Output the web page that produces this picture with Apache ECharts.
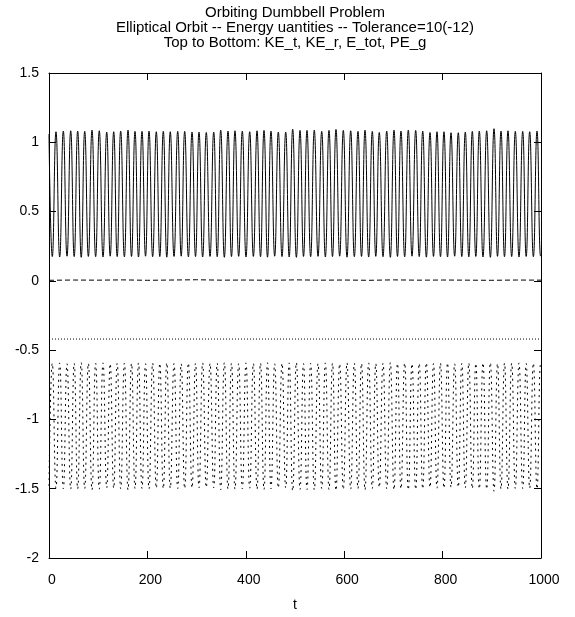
<!DOCTYPE html>
<html>
<head>
<meta charset="utf-8">
<script src="https://cdn.jsdelivr.net/npm/echarts@6/dist/echarts.min.js"></script>
<style>html,body{margin:0;padding:0;background:#fff;}#c{width:575px;height:617px;}</style>
</head>
<body>
<div id="c"></div>
<script>
// Title lines
var titleLines = [
  "Orbiting Dumbbell Problem",
  "Elliptical Orbit -- Energy uantities -- Tolerance=10(-12)",
  "Top to Bottom: KE_t, KE_r, E_tot, PE_g"
];
var xLabel = "t";
var xTicks = [0, 200, 400, 600, 800, 1000];
var yTicks = [-2, -1.5, -1, -0.5, 0, 0.5, 1, 1.5];

// KE_t local maxima (times) and values
var tPeaks = [0, 14.2, 29.1, 44.1, 58.3, 72.6, 87.4, 102.2, 117.3, 131.5, 145.7, 160.6, 174.8, 189.0, 203.3, 218.1, 232.3, 246.5, 261.6, 275.8, 290.7, 304.9, 319.7,
  334.8, 349.0, 363.8, 378.0, 392.9, 407.9, 422.8, 437.0, 451.2, 466.1, 481.1, 495.3, 510.2, 524.4, 539.2, 554.3, 569.1, 583.3, 598.2, 613.2, 628.0, 642.3,
  657.1, 671.3, 686.4, 701.2, 715.4, 730.3, 745.3, 759.6, 774.4, 788.6, 802.8, 817.1, 831.9, 846.1, 860.4, 874.6, 889.6, 904.5, 918.7, 932.9, 947.8, 962.8, 977.0, 991.9];
var keTPeaks = [1.06, 1.076, 1.081, 1.083, 1.081, 1.079, 1.088, 1.083, 1.074, 1.076, 1.081, 1.088, 1.079, 1.079, 1.081, 1.076, 1.079, 1.076, 1.079, 1.079, 1.074, 1.074, 1.071,
  1.074, 1.088, 1.081, 1.083, 1.081, 1.076, 1.083, 1.086, 1.081, 1.074, 1.074, 1.095, 1.086, 1.086, 1.088, 1.079, 1.086, 1.093, 1.086, 1.083, 1.079, 1.088,
  1.079, 1.071, 1.081, 1.088, 1.081, 1.088, 1.086, 1.081, 1.071, 1.076, 1.076, 1.069, 1.069, 1.074, 1.079, 1.081, 1.083, 1.098, 1.081, 1.083, 1.079, 1.079, 1.076, 1.081];
// KE_t local minima
var tTroughs = [6.7, 21.7, 36.6, 51.2, 65.5, 80.0, 94.8, 109.8, 124.4, 138.6, 153.2, 167.7, 181.9, 196.2, 210.7, 225.2, 239.4, 254.1, 268.7, 283.3, 297.8, 312.3,
  327.3, 341.9, 356.4, 370.9, 385.5, 400.4, 415.4, 429.9, 444.1, 458.7, 473.6, 488.2, 502.8, 517.3, 531.8, 546.8, 561.7, 576.2, 590.8, 605.7, 620.6, 635.2,
  649.7, 664.2, 678.9, 693.8, 708.3, 722.9, 737.8, 752.5, 767.0, 781.5, 795.7, 810.0, 824.5, 839.0, 853.3, 867.5, 882.1, 897.1, 911.6, 925.8, 940.4, 955.3, 969.9, 984.5, 999.2, 1000];
var keTTroughs = [0.175, 0.172, 0.178, 0.175, 0.17, 0.176, 0.174, 0.172, 0.178, 0.175, 0.173, 0.176, 0.172, 0.178, 0.174, 0.175, 0.171, 0.176, 0.178, 0.173, 0.175, 0.172,
  0.176, 0.174, 0.17, 0.175, 0.177, 0.172, 0.176, 0.174, 0.171, 0.178, 0.175, 0.172, 0.17, 0.176, 0.174, 0.177, 0.172, 0.175, 0.178, 0.171, 0.174, 0.176,
  0.172, 0.177, 0.174, 0.17, 0.176, 0.173, 0.178, 0.175, 0.171, 0.176, 0.174, 0.172, 0.178, 0.175, 0.173, 0.176, 0.172, 0.17, 0.177, 0.174, 0.175, 0.172, 0.176, 0.174, 0.178, 0.18];
// PE_g extrema (minima at KE_t peaks, maxima at KE_t troughs)
var peGMins = [-1.48, -1.496, -1.501, -1.503, -1.501, -1.499, -1.508, -1.503, -1.494, -1.496, -1.501, -1.508, -1.499, -1.499, -1.501, -1.496, -1.499, -1.496, -1.499, -1.499, -1.494, -1.494, -1.491,
  -1.494, -1.508, -1.501, -1.503, -1.501, -1.496, -1.503, -1.506, -1.501, -1.494, -1.494, -1.515, -1.506, -1.506, -1.508, -1.499, -1.506, -1.513, -1.506, -1.503, -1.499, -1.508,
  -1.499, -1.491, -1.501, -1.508, -1.501, -1.508, -1.506, -1.501, -1.491, -1.496, -1.496, -1.489, -1.489, -1.494, -1.499, -1.501, -1.503, -1.518, -1.501, -1.503, -1.499, -1.499, -1.496, -1.501];
var peGMaxs = [-0.595, -0.592, -0.598, -0.595, -0.59, -0.596, -0.594, -0.592, -0.598, -0.595, -0.593, -0.596, -0.592, -0.598, -0.594, -0.595, -0.591, -0.596, -0.598, -0.593, -0.595, -0.592,
  -0.596, -0.594, -0.59, -0.595, -0.597, -0.592, -0.596, -0.594, -0.591, -0.598, -0.595, -0.592, -0.59, -0.596, -0.594, -0.597, -0.592, -0.595, -0.598, -0.591, -0.594, -0.596,
  -0.592, -0.597, -0.594, -0.59, -0.596, -0.593, -0.598, -0.595, -0.591, -0.596, -0.594, -0.592, -0.598, -0.595, -0.593, -0.596, -0.592, -0.59, -0.597, -0.594, -0.595, -0.592, -0.596, -0.594, -0.598, -0.6];
// KE_r (near zero)
var tKEr = [0, 50, 100, 150, 200, 250, 300, 350, 400, 450, 500, 550, 600, 650, 700, 750, 800, 850, 900, 950, 1000];
var keR = [0.004, 0.006, 0.005, 0.007, 0.004, 0.006, 0.008, 0.005, 0.006, 0.004, 0.007, 0.005, 0.006, 0.004, 0.007, 0.005, 0.006, 0.005, 0.004, 0.006, 0.005];
// E_tot (constant)
var tEtot = [0, 1000];
var eTot = [-0.42, -0.42];

function merge(ta, va, tb, vb) {
  var out = [];
  for (var i = 0; i < ta.length; i++) out.push([ta[i], va[i]]);
  for (var j = 0; j < tb.length; j++) out.push([tb[j], vb[j]]);
  out.sort(function (a, b) { return a[0] - b[0]; });
  return out;
}
function pairs(t, v) { return t.map(function (x, i) { return [x, v[i]]; }); }

var FONT = "Liberation Sans, Arial, Helvetica, sans-serif";
var chart = echarts.init(document.getElementById('c'), null, {renderer: 'canvas'});

function xAx(pos, show) {
  return {
    type: 'value', position: pos, min: xTicks[0], max: xTicks[xTicks.length - 1], interval: 200,
    axisLine: {show: true, onZero: false, lineStyle: {color: '#000', width: 1}},
    axisTick: {show: true, inside: true, length: 7, lineStyle: {color: '#000'}},
    axisLabel: {show: show, color: '#000', fontSize: 14, fontFamily: FONT, margin: 15,
      padding: [0, 0, 0, 6],
      formatter: function (v) { return String(v); }},
    splitLine: {show: false},
    name: show ? xLabel : '', nameLocation: 'middle', nameGap: 40,
    nameTextStyle: {color: '#000', fontSize: 14, fontFamily: FONT}
  };
}
function yAx(pos, show) {
  return {
    type: 'value', position: pos, min: yTicks[0], max: yTicks[yTicks.length - 1], interval: 0.5,
    axisLine: {show: true, onZero: false, lineStyle: {color: '#000', width: 1}},
    axisTick: {show: true, inside: true, length: 7, lineStyle: {color: '#000'}},
    axisLabel: {show: show, color: '#000', fontSize: 14, fontFamily: FONT, margin: 10,
      formatter: function (v) { return String(v); }},
    splitLine: {show: false}
  };
}

chart.setOption({
  animation: false,
  backgroundColor: '#fff',
  graphic: [{
    type: 'text', x: 295, y: 5,
    style: {
      text: titleLines.join('\n'), textAlign: 'center', textVerticalAlign: 'top',
      fill: '#000', fontSize: 15, fontFamily: FONT, lineHeight: 15
    }
  }],
  grid: {left: 49, right: 34, top: 73, bottom: 54},
  xAxis: [xAx('bottom', true), xAx('top', false)],
  yAxis: [yAx('left', true), yAx('right', false)],
  series: [
    {name: 'KE_t', type: 'line', showSymbol: false, symbol: 'none', smooth: 0.5,
      data: merge(tPeaks, keTPeaks, tTroughs, keTTroughs),
      lineStyle: {color: '#000', width: 1, type: 'solid'}},
    {name: 'KE_r', type: 'line', showSymbol: false, symbol: 'none',
      data: pairs(tKEr, keR),
      lineStyle: {color: '#000', width: 1, type: [5, 3]}},
    {name: 'E_tot', type: 'line', showSymbol: false, symbol: 'none',
      data: pairs(tEtot, eTot),
      lineStyle: {color: '#000', width: 1, type: [1, 2]}},
    {name: 'PE_g', type: 'line', showSymbol: false, symbol: 'none', smooth: 0.5,
      data: merge(tPeaks, peGMins, tTroughs, peGMaxs),
      lineStyle: {color: '#000', width: 1, type: [2, 4]}}
  ]
});
</script>
</body>
</html>
